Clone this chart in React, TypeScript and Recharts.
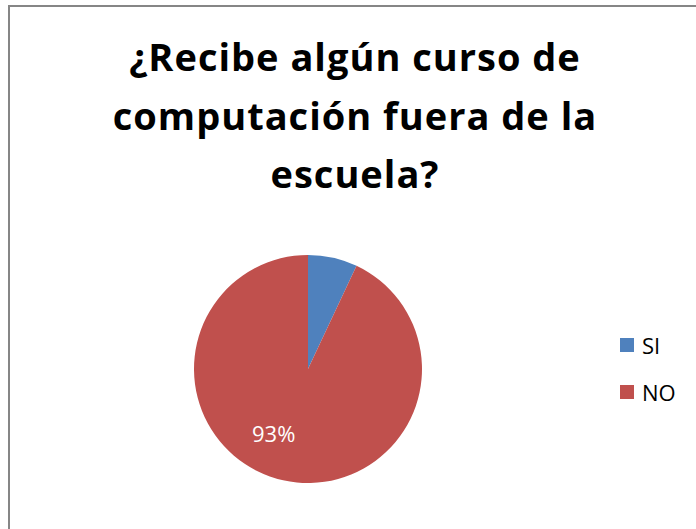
import { PieChart, Pie, Cell, Legend } from 'recharts';

const categories = ['SI', 'NO'];
const values = [7, 93];
const colors = ['#4f81bd', '#c0504d'];
const titleLines = ['¿Recibe algún curso de', 'computación fuera de la', 'escuela?'];

const data = categories.map((name, i) => ({ name, value: values[i] }));
const total = values.reduce((a, b) => a + b, 0);

const RADIAN = Math.PI / 180;
const FONT = "'Open Sans', Lato, sans-serif";

// Excel-style best-fit label: only the big slice shows its percentage
function renderLabel(props: any) {
  const { cx, cy, outerRadius, midAngle, value } = props;
  if (value / total < 0.5) return null;
  const angle = midAngle - 15.5;
  const r = outerRadius * 0.64;
  const x = cx + r * Math.cos(-angle * RADIAN);
  const y = cy + r * Math.sin(-angle * RADIAN);
  return (
    <text
      x={x}
      y={y}
      fill="#ffffff"
      fontSize={22}
      fontFamily={FONT}
      textAnchor="middle"
      dominantBaseline="central"
    >
      {Math.round((value / total) * 100)}%
    </text>
  );
}

function LegendContent() {
  return (
    <div style={{ fontFamily: FONT, fontSize: 22, color: '#000' }}>
      {data.map((d, i) => (
        <div key={d.name} style={{ display: 'flex', alignItems: 'center', height: 47 }}>
          <span
            style={{
              display: 'inline-block',
              width: 14,
              height: 14,
              background: colors[i],
              marginRight: 8,
            }}
          />
          <span>{d.name}</span>
        </div>
      ))}
    </div>
  );
}

export default function App() {
  return (
    <div style={{ position: 'absolute', left: 0, top: 0, width: 696, height: 529, background: '#fff', overflow: 'hidden' }}>
      <div
        style={{
          position: 'absolute',
          left: 8,
          top: 5,
          width: 720,
          height: 560,
          borderTop: '2px solid #868686',
          borderLeft: '2px solid #868686',
        }}
      />
      <div
        style={{
          position: 'absolute',
          left: 0,
          top: 0,
          width: 710,
          textAlign: 'center',
          fontFamily: FONT,
          fontWeight: 700,
          fontSize: 38,
          letterSpacing: 1,
          lineHeight: '58.5px',
          paddingTop: 27,
          color: '#000',
        }}
      >
        {titleLines.map((l) => (
          <div key={l}>{l}</div>
        ))}
      </div>
      <div style={{ position: 'absolute', left: 0, top: 0 }}>
        <PieChart width={696} height={529} margin={{ top: 0, right: 0, bottom: 0, left: 0 }}>
          <Pie
            data={data}
            dataKey="value"
            nameKey="name"
            cx={308}
            cy={369}
            outerRadius={114}
            startAngle={90}
            endAngle={-270}
            stroke="none"
            label={renderLabel}
            labelLine={false}
            isAnimationActive={false}
          >
            {data.map((d, i) => (
              <Cell key={d.name} fill={colors[i]} />
            ))}
          </Pie>
          <Legend
            layout="vertical"
            content={<LegendContent />}
            wrapperStyle={{ position: 'absolute', left: 620, top: 321, width: 76 }}
          />
        </PieChart>
      </div>
    </div>
  );
}
